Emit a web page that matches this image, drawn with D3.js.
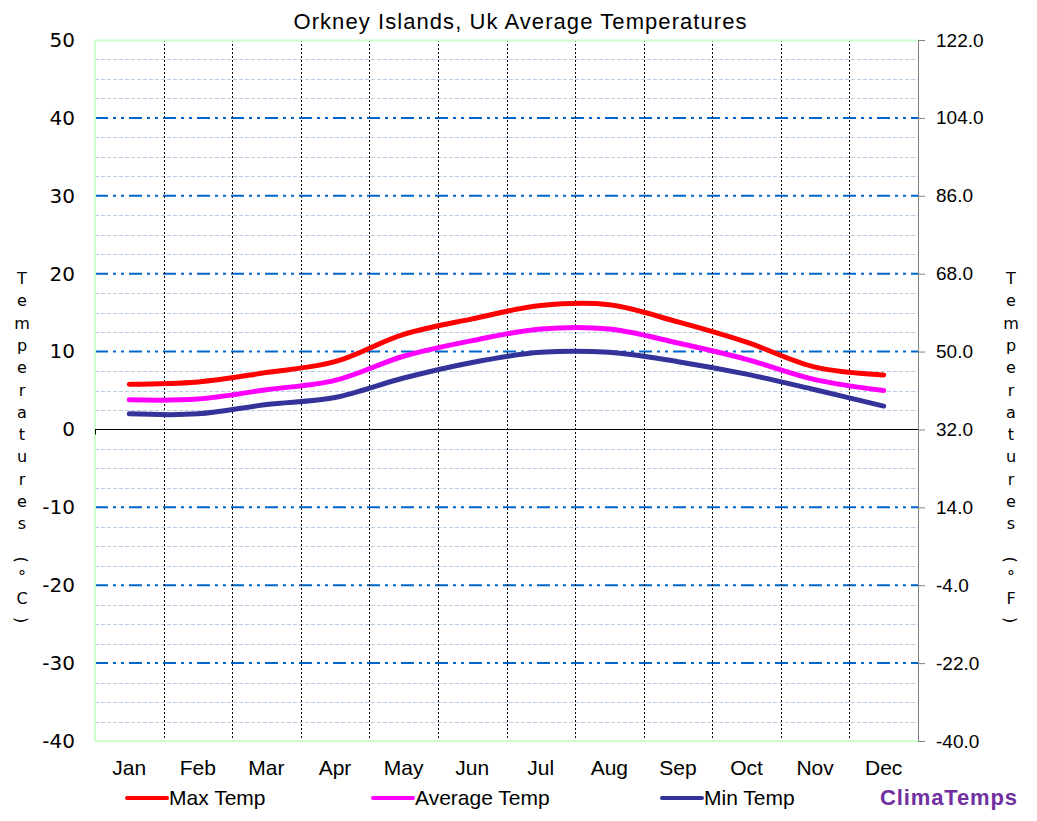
<!DOCTYPE html>
<html><head><meta charset="utf-8">
<script src="https://cdn.jsdelivr.net/npm/d3@7"></script>
<style>
body{margin:0;background:#fff;}
svg{display:block;}
</style></head>
<body><svg id="c" width="1037" height="821"></svg>
<script>
const months = ["Jan","Feb","Mar","Apr","May","Jun","Jul","Aug","Sep","Oct","Nov","Dec"];
const maxTemp = [5.8, 6.1, 7.3, 8.7, 12.2, 14.2, 15.9, 16.0, 13.8, 11.2, 8.0, 7.0];
const avgTemp = [3.8, 3.9, 5.1, 6.3, 9.4, 11.4, 12.9, 12.9, 11.1, 9.0, 6.4, 5.0];
const minTemp = [2.0, 2.0, 3.2, 4.1, 6.6, 8.6, 9.9, 9.9, 8.7, 7.1, 5.1, 3.0];
const cTicks = [50, 40, 30, 20, 10, 0, -10, -20, -30, -40];
const fTicks = [122, 104, 86, 68, 50, 32, 14, -4, -22, -40];
const seriesNames = ["Max Temp", "Average Temp", "Min Temp"];
const seriesColors = ["#ff0000", "#ff00ff", "#333399"];

const svg = d3.select("#c");
const L = 95, R = 918, T = 40, B = 741;
const x = d3.scaleBand().domain(months).range([L, R]);
const xc = m => x(m) + x.bandwidth() / 2;
const y = d3.scaleLinear().domain([-40, 50]).range([B, T]);
const yF = d3.scaleLinear().domain([-40, 122]).range([B, T]);
const hy = s => s.replace("\u2212", "-");

// minor grid (every 2.5)
const minor = d3.range(-40, 50.01, 2.5).filter(v => v % 10 !== 0);
svg.append("g").selectAll("line").data(minor).join("line")
  .attr("x1", L).attr("x2", R).attr("y1", d => Math.round(y(d)) + 0.5).attr("y2", d => Math.round(y(d)) + 0.5)
  .attr("stroke", "#b8cce4").attr("stroke-width", 1).attr("stroke-dasharray", "4,2");

// major grid
svg.append("g").selectAll("line").data(cTicks.filter(v => v !== 0 && v !== 50 && v !== -40)).join("line")
  .attr("x1", L).attr("x2", R).attr("y1", d => y(d)).attr("y2", d => y(d))
  .attr("stroke", "#0066cc").attr("stroke-width", 2).attr("stroke-dasharray", "13,5,3,5,3,5");

// vertical month separators
svg.append("g").selectAll("line").data(months.slice(1)).join("line")
  .attr("x1", d => Math.round(x(d)) + 0.5).attr("x2", d => Math.round(x(d)) + 0.5)
  .attr("y1", T).attr("y2", B)
  .attr("stroke", "#000").attr("stroke-width", 1).attr("stroke-dasharray", "2,2");

// plot borders (light green)
svg.append("line").attr("x1", L).attr("x2", R).attr("y1", T + 0.5).attr("y2", T + 0.5).attr("stroke", "#ccffcc").attr("stroke-width", 2);
svg.append("line").attr("x1", L).attr("x2", R).attr("y1", B).attr("y2", B).attr("stroke", "#ccffcc").attr("stroke-width", 2);
svg.append("line").attr("x1", L).attr("x2", L).attr("y1", T).attr("y2", B).attr("stroke", "#ccffcc").attr("stroke-width", 2);

// zero line
svg.append("line").attr("x1", L).attr("x2", R).attr("y1", Math.round(y(0)) + 0.5).attr("y2", Math.round(y(0)) + 0.5).attr("stroke", "#000").attr("stroke-width", 1);
svg.append("line").attr("x1", L + 0.5).attr("x2", L + 0.5).attr("y1", y(0)).attr("y2", y(0) + 5).attr("stroke", "#000").attr("stroke-width", 1);

// left axis labels
const gl = svg.append("g").attr("transform", `translate(${L},0)`)
  .call(d3.axisLeft(y).tickValues(cTicks).tickSize(0).tickPadding(20).tickFormat(d => hy(d3.format("d")(d))));
gl.select(".domain").remove();
gl.selectAll("text").attr("font-family", "'DejaVu Sans', Verdana, sans-serif").attr("font-size", 20).attr("fill", "#000");

// right axis
const gr = svg.append("g").attr("transform", `translate(${R},0)`)
  .call(d3.axisRight(yF).tickValues(fTicks).tickSize(7).tickPadding(11).tickFormat(d => hy(d3.format(".1f")(d))));
gr.select(".domain").attr("stroke", "#808080").attr("stroke-width", 1);
gr.selectAll(".tick line").attr("stroke", "#808080");
gr.selectAll("text").attr("font-family", "'Liberation Sans', Arial, sans-serif").attr("font-size", 19).attr("fill", "#000");

// month labels
svg.append("g").selectAll("text").data(months).join("text")
  .attr("x", d => xc(d)).attr("y", 775).attr("text-anchor", "middle")
  .attr("font-family", "'Liberation Sans', Arial, sans-serif").attr("font-size", 21)
  .text(d => d);

// series lines
const line = d3.line().x((d, i) => xc(months[i])).y(d => y(d)).curve(d3.curveCatmullRom.alpha(0.5));
[maxTemp, avgTemp, minTemp].forEach((s, k) => {
  svg.append("path").attr("d", line(s)).attr("fill", "none")
    .attr("stroke", seriesColors[k]).attr("stroke-width", 5).attr("stroke-linecap", "round").attr("stroke-linejoin", "round");
});

// title
svg.append("text").attr("x", 520).attr("y", 29).attr("text-anchor", "middle")
  .attr("font-family", "'Liberation Sans', Arial, sans-serif").attr("font-size", 22).attr("textLength", 453)
  .text("Orkney Islands, Uk Average Temperatures");

// vertical axis titles
function vtitle(cx, str) {
  const g = svg.append("g").attr("font-family", "'DejaVu Sans', Verdana, sans-serif").attr("font-size", 16).attr("fill", "#000");
  const chars = str.split("");
  let yy = 284;
  chars.forEach((ch, i) => {
    if (ch === " ") { yy += 14; return; }
    if (ch === "(" || ch === ")") {
      g.append("text").attr("transform", `translate(${cx},${yy - 6}) rotate(90)`).attr("text-anchor", "middle").attr("dy", "0.35em").text(ch);
      yy += 16;
      return;
    }
    g.append("text").attr("x", cx).attr("y", yy).attr("text-anchor", "middle").text(ch);
    yy += 22.3;
  });
}
vtitle(22, "Temperatures (°C)");
vtitle(1011, "Temperatures (°F)");

// legend
const legX = [127, 373, 662];
seriesNames.forEach((n, k) => {
  svg.append("line").attr("x1", legX[k]).attr("x2", legX[k] + 40).attr("y1", 798).attr("y2", 798)
    .attr("stroke", seriesColors[k]).attr("stroke-width", 4).attr("stroke-linecap", "round");
  svg.append("text").attr("x", legX[k] + 42).attr("y", 805)
    .attr("font-family", "'Liberation Sans', Arial, sans-serif").attr("font-size", 21).text(n);
});
svg.append("text").attr("x", 880).attr("y", 805).attr("font-family", "'Liberation Sans', Arial, sans-serif")
  .attr("font-weight", "bold").attr("font-size", 22).attr("fill", "#7030a0").attr("textLength", 137).text("ClimaTemps");
</script></body></html>
